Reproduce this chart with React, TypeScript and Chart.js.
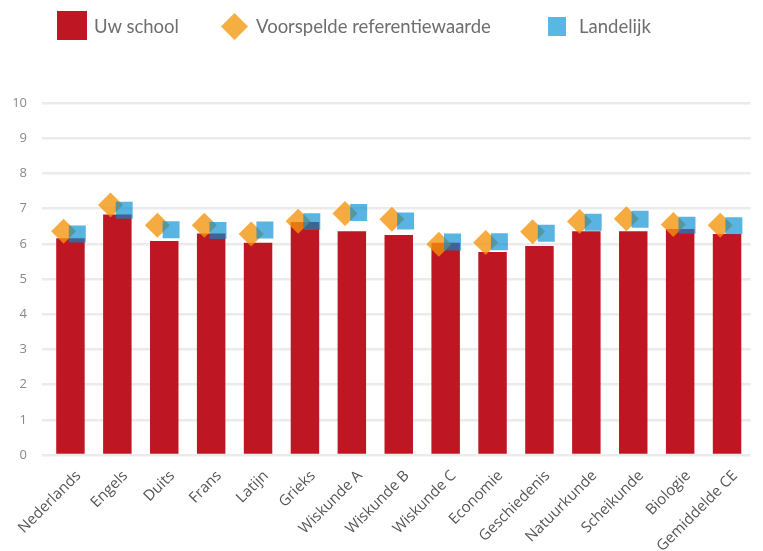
import React, { useEffect, useRef } from 'react';
import { Chart, registerables } from 'chart.js';

Chart.register(...registerables);

const categories = [
  'Nederlands', 'Engels', 'Duits', 'Frans', 'Latijn', 'Grieks', 'Wiskunde A',
  'Wiskunde B', 'Wiskunde C', 'Economie', 'Geschiedenis', 'Natuurkunde',
  'Scheikunde', 'Biologie', 'Gemiddelde CE',
];
const uwSchool = [6.16, 6.83, 6.08, 6.29, 6.03, 6.62, 6.36, 6.25, 6.03, 5.77, 5.94, 6.36, 6.36, 6.42, 6.28];
const referentie = [6.36, 7.10, 6.53, 6.53, 6.28, 6.64, 6.86, 6.70, 5.99, 6.04, 6.34, 6.63, 6.71, 6.55, 6.53];
const landelijk = [6.28, 6.95, 6.40, 6.38, 6.39, 6.63, 6.89, 6.65, 6.05, 6.06, 6.30, 6.61, 6.70, 6.53, 6.51];
const yTicks = [0, 1, 2, 3, 4, 5, 6, 7, 8, 9, 10];
const seriesNames = ['Uw school', 'Voorspelde referentiewaarde', 'Landelijk'];

const POINT_SHIFT = 0.146;
const RED = '#be1622';
const ORANGE = 'rgba(243,148,10,0.78)';
const BLUE = 'rgba(0,140,210,0.65)';
const GRID = '#ebebeb';

const legendText: React.CSSProperties = {
  position: 'absolute',
  top: 15,
  fontFamily: 'Lato, "Open Sans", sans-serif',
  fontSize: 18.5,
  lineHeight: '22.2px',
  color: '#6e6e6e',
  whiteSpace: 'nowrap',
};

export default function App() {
  const ref = useRef<HTMLCanvasElement>(null);

  useEffect(() => {
    const chart = new Chart(ref.current!, {
      type: 'bar',
      data: {
        labels: categories,
        datasets: [
          {
            type: 'line',
            label: seriesNames[2],
            data: landelijk.map((v, i) => ({ x: i + POINT_SHIFT, y: v })),
            xAxisID: 'xp',
            showLine: false,
            pointStyle: 'rect',
            pointRadius: 12,
            pointHoverRadius: 12,
            pointBackgroundColor: BLUE,
            pointBorderWidth: 0,
            backgroundColor: BLUE,
            borderColor: BLUE,
            order: 1,
          } as any,
          {
            type: 'line',
            label: seriesNames[1],
            data: referentie.map((v, i) => ({ x: i - POINT_SHIFT, y: v })),
            xAxisID: 'xp',
            showLine: false,
            pointStyle: 'rectRot',
            pointRadius: 12.5,
            pointHoverRadius: 12.5,
            pointBackgroundColor: ORANGE,
            pointBorderWidth: 0,
            backgroundColor: ORANGE,
            borderColor: ORANGE,
            order: 2,
          } as any,
          {
            type: 'bar',
            label: seriesNames[0],
            data: uwSchool,
            xAxisID: 'x',
            backgroundColor: RED,
            borderWidth: 0,
            grouped: false,
            barPercentage: 0.607,
            categoryPercentage: 1,
            order: 3,
          } as any,
        ],
      },
      options: {
        responsive: false,
        animation: false,
        layout: { padding: { top: 103, left: 0, right: 0, bottom: 0 } },
        plugins: { legend: { display: false }, tooltip: { enabled: false } },
        scales: {
          x: {
            type: 'category',
            offset: true,
            grid: { display: false },
            border: { display: false },
            ticks: {
              autoSkip: false,
              maxRotation: 45,
              minRotation: 45,
              color: '#555',
              font: { family: '"Open Sans", sans-serif', size: 15 },
              padding: 4,
              labelOffset: 8,
            },
            afterFit: (s: any) => { s.height = 96; },
          },
          xp: {
            type: 'linear',
            display: false,
            min: -0.5,
            max: 14.5,
            offset: false,
          },
          y: {
            min: yTicks[0],
            max: yTicks[yTicks.length - 1],
            afterBuildTicks: (s: any) => { s.ticks = yTicks.map((v) => ({ value: v })); },
            grid: { color: GRID, lineWidth: 2.5, tickLength: 5, tickColor: GRID },
            border: { display: false },
            ticks: {
              color: '#888',
              font: { family: '"Open Sans", sans-serif', size: 13 },
              padding: 15,
            },
            afterFit: (s: any) => { s.width = 47; },
          },
        },
      } as any,
    });
    return () => chart.destroy();
  }, []);

  return (
    <div style={{ position: 'absolute', left: 0, top: 0, width: 763, height: 551, background: '#fff' }}>
      <canvas ref={ref} width={763} height={551} style={{ position: 'absolute', left: 0, top: 0, width: 763, height: 551 }} />
      <div style={{ position: 'absolute', left: 57, top: 11, width: 30, height: 29, background: RED }} />
      <span style={{ ...legendText, left: 94 }}>{seriesNames[0]}</span>
      <svg style={{ position: 'absolute', left: 221, top: 13 }} width={27} height={27}>
        <polygon points="13.5,0 27,13.5 13.5,27 0,13.5" fill="#f5ae42" />
      </svg>
      <span style={{ ...legendText, left: 256 }}>{seriesNames[1]}</span>
      <div style={{ position: 'absolute', left: 548, top: 17, width: 18, height: 19, background: '#5ab7e2' }} />
      <span style={{ ...legendText, left: 579 }}>{seriesNames[2]}</span>
    </div>
  );
}
